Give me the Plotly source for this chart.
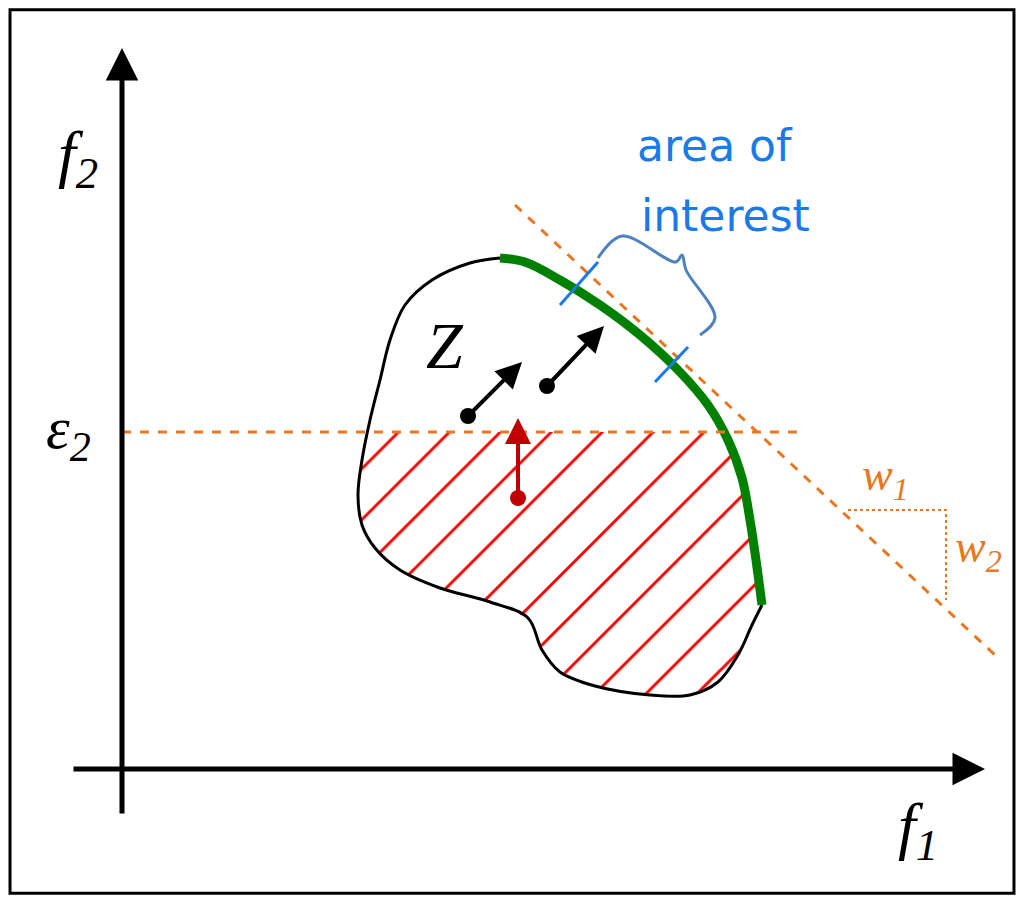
import plotly.graph_objects as go

# geometry in picture pixel units (y grows downwards)
blob_x = [500, 470, 432, 405, 390, 380, 370, 362, 358, 362, 375, 400, 440, 490, 528, 542, 560, 595, 650, 690, 718, 738, 752, 762]
blob_y = [258, 263, 280, 305, 340, 380, 420, 460, 495, 525, 548, 570, 588, 602, 618, 650, 672, 686, 695, 695, 682, 655, 625, 605]
front_x = [500, 525, 560, 600, 640, 678, 708, 728, 742, 750, 756, 762]
front_y = [258, 262, 280, 305, 335, 370, 405, 440, 478, 520, 560, 605]
hatch_x = [365, 358, 362, 375, 400, 440, 490, 528, 542, 560, 595, 650, 690, 718, 738, 752, 762, 756, 750, 742, 728, 722]
hatch_y = [432, 495, 525, 548, 570, 588, 602, 618, 650, 672, 686, 695, 695, 682, 655, 625, 605, 560, 520, 478, 440, 432]
eps_x = [122, 800]
eps_y = [432, 432]
wline_x = [515, 995]
wline_y = [205, 655]
tri_x = [848, 946, 946]
tri_y = [510, 510, 600]
brace_x = [598, 622, 676, 682, 686, 715, 700]
brace_y = [258, 236, 262, 255, 270, 318, 335]

orange = "#e87722"
blue = "#1a7ae8"

fig = go.Figure()
fig.add_trace(go.Scatter(x=hatch_x, y=hatch_y, mode="lines", fill="toself",
                         line=dict(width=0), fillcolor="rgba(0,0,0,0)",
                         fillpattern=dict(shape="/", fgcolor="#ff0000", fgopacity=1, bgcolor="white",
                                          size=36, solidity=0.08)))
fig.add_trace(go.Scatter(x=blob_x, y=blob_y, mode="lines", line=dict(color="black", width=3, shape="spline")))
fig.add_trace(go.Scatter(x=front_x, y=front_y, mode="lines", line=dict(color="green", width=9, shape="spline")))
fig.add_trace(go.Scatter(x=eps_x, y=eps_y, mode="lines", line=dict(color=orange, width=3, dash="dash")))
fig.add_trace(go.Scatter(x=wline_x, y=wline_y, mode="lines", line=dict(color=orange, width=3, dash="dash")))
fig.add_trace(go.Scatter(x=tri_x, y=tri_y, mode="lines", line=dict(color=orange, width=2, dash="dot")))
fig.add_trace(go.Scatter(x=brace_x, y=brace_y, mode="lines", line=dict(color="#4f81bd", width=3, shape="spline")))
for tx, ty in [([560, 598], [305, 262]), ([655, 688], [382, 347])]:
    fig.add_trace(go.Scatter(x=tx, y=ty, mode="lines", line=dict(color=blue, width=3)))
# dots
fig.add_trace(go.Scatter(x=[468, 547], y=[416, 386], mode="markers", marker=dict(color="black", size=16)))
fig.add_trace(go.Scatter(x=[518], y=[498], mode="markers", marker=dict(color="#c00000", size=16)))

def arrow(x0, y0, x1, y1, color, width=4, size=1.3):
    fig.add_annotation(x=x1, y=y1, ax=x0, ay=y0, xref="x", yref="y", axref="x", ayref="y",
                       showarrow=True, arrowhead=2, arrowsize=size, arrowwidth=width, arrowcolor=color, text="")

arrow(468, 416, 522, 362, "black")
arrow(547, 386, 604, 326, "black")
arrow(518, 498, 518, 418, "#c00000")
arrow(122, 815, 122, 48, "black", 5, 1.3)
arrow(72, 769, 985, 769, "black", 5, 1.3)

serif = "Liberation Serif"
def label(x, y, t, size, color="black", family=serif):
    fig.add_annotation(x=x, y=y, xref="x", yref="y", text=t, showarrow=False,
                       font=dict(size=size, color=color, family=family))

label(78, 158, "<i>f</i><sub><i>2</i></sub>", 64)
label(918, 830, "<i>f</i><sub><i>1</i></sub>", 64)
label(68, 432, "<i>ε</i><sub><i>2</i></sub>", 60)
label(445, 345, "<i>Z</i>", 66)
label(885, 478, "<i>w</i><sub><i>1</i></sub>", 46, orange)
label(978, 550, "<i>w</i><sub><i>2</i></sub>", 46, orange)
label(715, 145, "area of", 44, blue, "DejaVu Sans")
label(725, 215, "interest", 44, blue, "DejaVu Sans")

fig.add_shape(type="rect", x0=0.002, y0=0.002, x1=0.998, y1=0.998, xref="paper", yref="paper",
              line=dict(color="black", width=3))

fig.update_xaxes(range=[8, 1016], visible=False)
fig.update_yaxes(range=[895, 8], visible=False)
fig.update_layout(width=1008, height=887, margin=dict(l=0, r=0, t=0, b=0), showlegend=False,
                  plot_bgcolor="white", paper_bgcolor="white")
fig.write_html("out.html")
